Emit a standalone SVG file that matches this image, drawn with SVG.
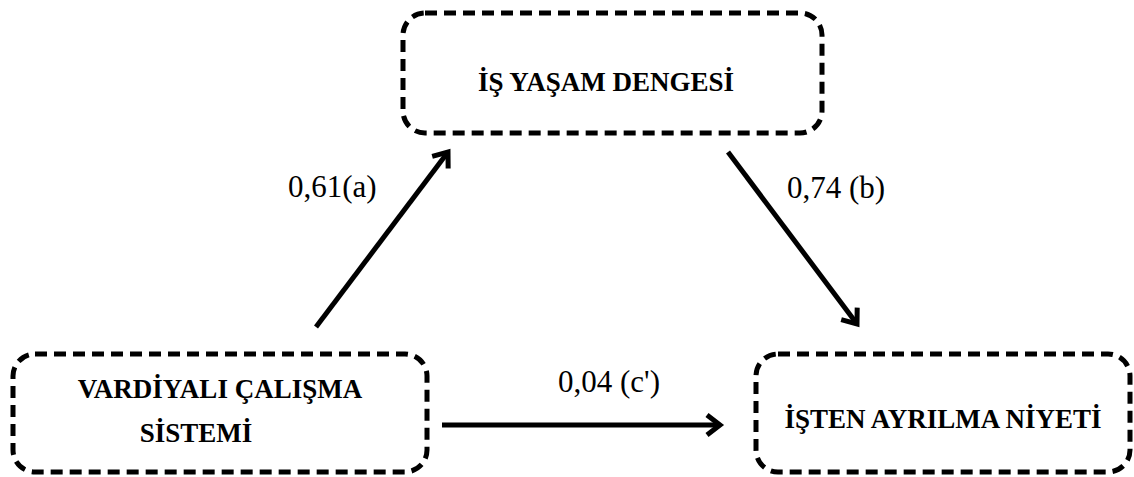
<svg xmlns="http://www.w3.org/2000/svg" width="1134" height="477" viewBox="0 0 1134 477">
  <style>
    .box { fill: #fff; stroke: #000; stroke-width: 5; stroke-dasharray: 12 7; }
    .node-text { font-family: "Liberation Serif", "Times New Roman", serif; font-weight: bold; font-size: 27px; fill: #000; text-anchor: middle; }
    .label { font-family: "Liberation Serif", "Times New Roman", serif; font-size: 31px; fill: #000; }
    .edge { fill: none; stroke: #000; stroke-width: 5; marker-end: url(#arrow); }
  </style>
  <defs>
    <marker id="arrow" markerUnits="userSpaceOnUse" markerWidth="40" markerHeight="40" viewBox="-30 -20 40 40" refX="0" refY="0" orient="auto" overflow="visible">
      <path d="M-13,-10 L0,0 L-13,10" fill="none" stroke="#000" stroke-width="5" stroke-linejoin="miter"/>
    </marker>
  </defs>
  <rect width="1134" height="477" fill="#fff"/>

  <g id="connectors">
    <path class="edge" d="M316,327 L448,152"/>
    <path class="edge" d="M728,152 L857,324"/>
    <path class="edge" d="M442,425 L720,425"/>
    <text class="label" x="288" y="197">0,61(a)</text>
    <text class="label" x="787" y="198">0,74 (b)</text>
    <text class="label" x="558" y="392">0,04 (c')</text>
  </g>

  <g id="node-is-yasam">
    <rect class="box" x="403" y="13" width="419" height="120" rx="22"/>
    <text class="node-text" x="606" y="91">İŞ YAŞAM DENGESİ</text>
  </g>

  <g id="node-vardiyali">
    <rect class="box" x="13" y="354" width="414" height="118" rx="22"/>
    <text class="node-text" x="220" y="398">VARDİYALI ÇALIŞMA</text>
    <text class="node-text" x="196" y="442">SİSTEMİ</text>
  </g>

  <g id="node-isten-ayrilma">
    <rect class="box" x="756" y="354" width="374" height="118" rx="22"/>
    <text class="node-text" x="943" y="428">İŞTEN AYRILMA NİYETİ</text>
  </g>
</svg>
